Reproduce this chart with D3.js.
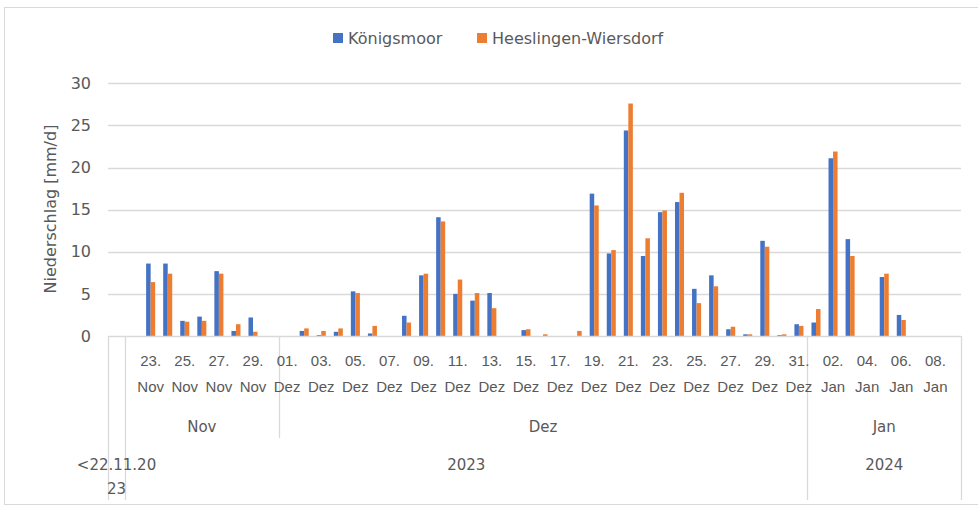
<!DOCTYPE html>
<html>
<head>
<meta charset="utf-8">
<script src="https://cdn.jsdelivr.net/npm/d3@7"></script>
<style>
  html, body { margin: 0; padding: 0; background: #fff; }
  svg { display: block; font-family: "DejaVu Sans", sans-serif; }
</style>
</head>
<body>
<svg id="chart" width="978" height="509"></svg>
<script>
// ---- data ----
const categories = [
  "<22.11.2023",
  "22.11.2023","23.11.2023","24.11.2023","25.11.2023","26.11.2023","27.11.2023","28.11.2023","29.11.2023","30.11.2023",
  "01.12.2023","02.12.2023","03.12.2023","04.12.2023","05.12.2023","06.12.2023","07.12.2023","08.12.2023","09.12.2023","10.12.2023",
  "11.12.2023","12.12.2023","13.12.2023","14.12.2023","15.12.2023","16.12.2023","17.12.2023","18.12.2023","19.12.2023","20.12.2023",
  "21.12.2023","22.12.2023","23.12.2023","24.12.2023","25.12.2023","26.12.2023","27.12.2023","28.12.2023","29.12.2023","30.12.2023",
  "31.12.2023",
  "01.01.2024","02.01.2024","03.01.2024","04.01.2024","05.01.2024","06.01.2024","07.01.2024","08.01.2024","09.01.2024"
];
const koenigsmoor = [
  0,
  0, 8.6, 8.6, 1.8, 2.3, 7.7, 0.6, 2.2, 0,
  0, 0.6, 0.1, 0.5, 5.3, 0.3, 0, 2.4, 7.2, 14.1,
  5.0, 4.2, 5.1, 0, 0.7, 0, 0, 0, 16.9, 9.8,
  24.4, 9.5, 14.7, 15.9, 5.6, 7.2, 0.8, 0.2, 11.3, 0.1,
  1.4,
  1.6, 21.1, 11.5, 0, 7.0, 2.5, 0, 0, 0
];
const heeslingen = [
  0,
  0, 6.4, 7.4, 1.7, 1.8, 7.4, 1.4, 0.5, 0,
  0, 0.9, 0.6, 0.9, 5.1, 1.2, 0, 1.6, 7.4, 13.6,
  6.7, 5.1, 3.3, 0, 0.8, 0.2, 0, 0.6, 15.5, 10.2,
  27.6, 11.6, 14.9, 17.0, 3.9, 5.9, 1.1, 0.2, 10.6, 0.2,
  1.2,
  3.2, 21.9, 9.5, 0, 7.4, 1.9, 0, 0, 0
];
const seriesNames = ["Königsmoor", "Heeslingen-Wiersdorf"];
const seriesColors = ["#4472C4", "#ED7D31"];
const yTicks = [0, 5, 10, 15, 20, 25, 30];
const yTitle = "Niederschlag [mm/d]";
// day tick labels (every second category)
const dayTicks = [
  "23.11.2023","25.11.2023","27.11.2023","29.11.2023",
  "01.12.2023","03.12.2023","05.12.2023","07.12.2023","09.12.2023","11.12.2023","13.12.2023",
  "15.12.2023","17.12.2023","19.12.2023","21.12.2023","23.12.2023","25.12.2023","27.12.2023","29.12.2023","31.12.2023",
  "02.01.2024","04.01.2024","06.01.2024","08.01.2024"
];
const dayLabels = [
  ["23.","Nov"],["25.","Nov"],["27.","Nov"],["29.","Nov"],
  ["01.","Dez"],["03.","Dez"],["05.","Dez"],["07.","Dez"],["09.","Dez"],["11.","Dez"],["13.","Dez"],
  ["15.","Dez"],["17.","Dez"],["19.","Dez"],["21.","Dez"],["23.","Dez"],["25.","Dez"],["27.","Dez"],["29.","Dez"],["31.","Dez"],
  ["02.","Jan"],["04.","Jan"],["06.","Jan"],["08.","Jan"]
];
// month groups: label, first category, last category
const monthGroups = [
  ["Nov", "22.11.2023", "30.11.2023"],
  ["Dez", "01.12.2023", "31.12.2023"],
  ["Jan", "01.01.2024", "09.01.2024"]
];
// year groups
const yearGroups = [
  ["<22.11.20", "<22.11.2023", "<22.11.2023"],
  ["2023", "22.11.2023", "31.12.2023"],
  ["2024", "01.01.2024", "09.01.2024"]
];

(function () {
// ---- layout ----
const svg = d3.select("#chart");
const pL = 108, pR = 961, pT = 83.3, pB = 336;
const textColor = "#595959";
const gridColor = "#d9d9d9";

// chart border
svg.append("rect")
  .attr("x", 4.5).attr("y", 7.5).attr("width", 990).attr("height", 497)
  .attr("fill", "#fff").attr("stroke", gridColor).attr("stroke-width", 1);

const x = d3.scaleBand().domain(categories).range([pL, pR]).paddingInner(0.47).paddingOuter(0.235);
const xs = d3.scaleBand().domain([0, 1]).range([0, x.bandwidth()]).padding(0);
const y = d3.scaleLinear().domain([0, 30]).range([pB, pT]);
const slotLeft = c => pL + categories.indexOf(c) * (pR - pL) / categories.length;
const slotRight = c => pL + (categories.indexOf(c) + 1) * (pR - pL) / categories.length;

// gridlines
svg.append("g").selectAll("line").data(yTicks.filter(t => t > 0)).join("line")
  .attr("x1", pL).attr("x2", pR)
  .attr("y1", d => Math.round(y(d)) + 0.5).attr("y2", d => Math.round(y(d)) + 0.5)
  .attr("stroke", gridColor).attr("stroke-width", 1.3);

// y axis labels
const yAxis = svg.append("g").attr("transform", `translate(${pL},0)`)
  .call(d3.axisLeft(y).tickValues(yTicks).tickSize(0).tickPadding(17));
yAxis.select(".domain").remove();
yAxis.selectAll("text").attr("fill", textColor).style("font-size", "16px")
  .style("font-family", "DejaVu Sans, sans-serif");

// y title
svg.append("text")
  .attr("transform", "translate(50,209) rotate(-90)")
  .attr("text-anchor", "middle").attr("dy", "0.35em")
  .attr("fill", textColor).style("font-size", "16px")
  .text(yTitle);

// bars
const seriesData = [koenigsmoor, heeslingen];
seriesData.forEach((vals, si) => {
  svg.append("g").selectAll("rect").data(categories.map((c, i) => ({c, v: vals[i]})))
    .join("rect")
    .attr("x", d => x(d.c) + xs(si))
    .attr("width", xs.bandwidth())
    .attr("y", d => y(d.v))
    .attr("height", d => pB - y(d.v))
    .attr("fill", seriesColors[si]);
});

// x axis line and category separators
svg.append("line").attr("x1", pL).attr("x2", pR).attr("y1", pB + 0.5).attr("y2", pB + 0.5)
  .attr("stroke", gridColor).attr("stroke-width", 1.3);
const sepFull = [slotLeft("<22.11.2023"), slotRight("<22.11.2023"), slotRight("31.12.2023"), slotRight("09.01.2024")];
svg.append("g").selectAll("line").data(sepFull).join("line")
  .attr("x1", d => Math.round(d) + 0.5).attr("x2", d => Math.round(d) + 0.5)
  .attr("y1", pB).attr("y2", 500)
  .attr("stroke", gridColor).attr("stroke-width", 1.3);
svg.append("line")
  .attr("x1", Math.round(slotRight("30.11.2023")) + 0.5).attr("x2", Math.round(slotRight("30.11.2023")) + 0.5)
  .attr("y1", pB).attr("y2", 438)
  .attr("stroke", gridColor).attr("stroke-width", 1.3);

// day labels
const xAxis = svg.append("g").attr("transform", `translate(0,${pB})`)
  .call(d3.axisBottom(x).tickValues(dayTicks).tickSize(0).tickFormat(""));
xAxis.select(".domain").remove();
xAxis.selectAll(".tick text").remove();
xAxis.selectAll(".tick").each(function(d) {
  const lab = dayLabels[dayTicks.indexOf(d)];
  const t = d3.select(this).append("text")
    .attr("text-anchor", "middle").attr("fill", textColor).style("font-size", "15px");
  t.append("tspan").attr("x", 0).attr("y", 30).text(lab[0]);
  t.append("tspan").attr("x", 0).attr("y", 56).text(lab[1]);
});

// month labels
svg.append("g").selectAll("text").data(monthGroups).join("text")
  .attr("x", d => (slotLeft(d[1]) + slotRight(d[2])) / 2)
  .attr("y", 432)
  .attr("text-anchor", "middle").attr("fill", textColor).style("font-size", "15px")
  .text(d => d[0]);

// year labels
svg.append("g").selectAll("text").data(yearGroups).join("text")
  .attr("x", d => (slotLeft(d[1]) + slotRight(d[2])) / 2)
  .attr("y", 470)
  .attr("text-anchor", "middle").attr("fill", textColor).style("font-size", "15px")
  .text(d => d[0]);
svg.append("text")
  .attr("x", (slotLeft("<22.11.2023") + slotRight("<22.11.2023")) / 2)
  .attr("y", 494).attr("text-anchor", "middle").attr("fill", textColor).style("font-size", "15px")
  .text("23");

// legend
const legendItems = [
  {name: seriesNames[0], color: seriesColors[0], x: 333},
  {name: seriesNames[1], color: seriesColors[1], x: 477}
];
const lg = svg.append("g");
legendItems.forEach(it => {
  lg.append("rect").attr("x", it.x).attr("y", 33).attr("width", 10).attr("height", 10).attr("fill", it.color);
  lg.append("text").attr("x", it.x + 15).attr("y", 44).attr("fill", textColor)
    .style("font-size", "16px").text(it.name);
});
})();
</script>
</body>
</html>
